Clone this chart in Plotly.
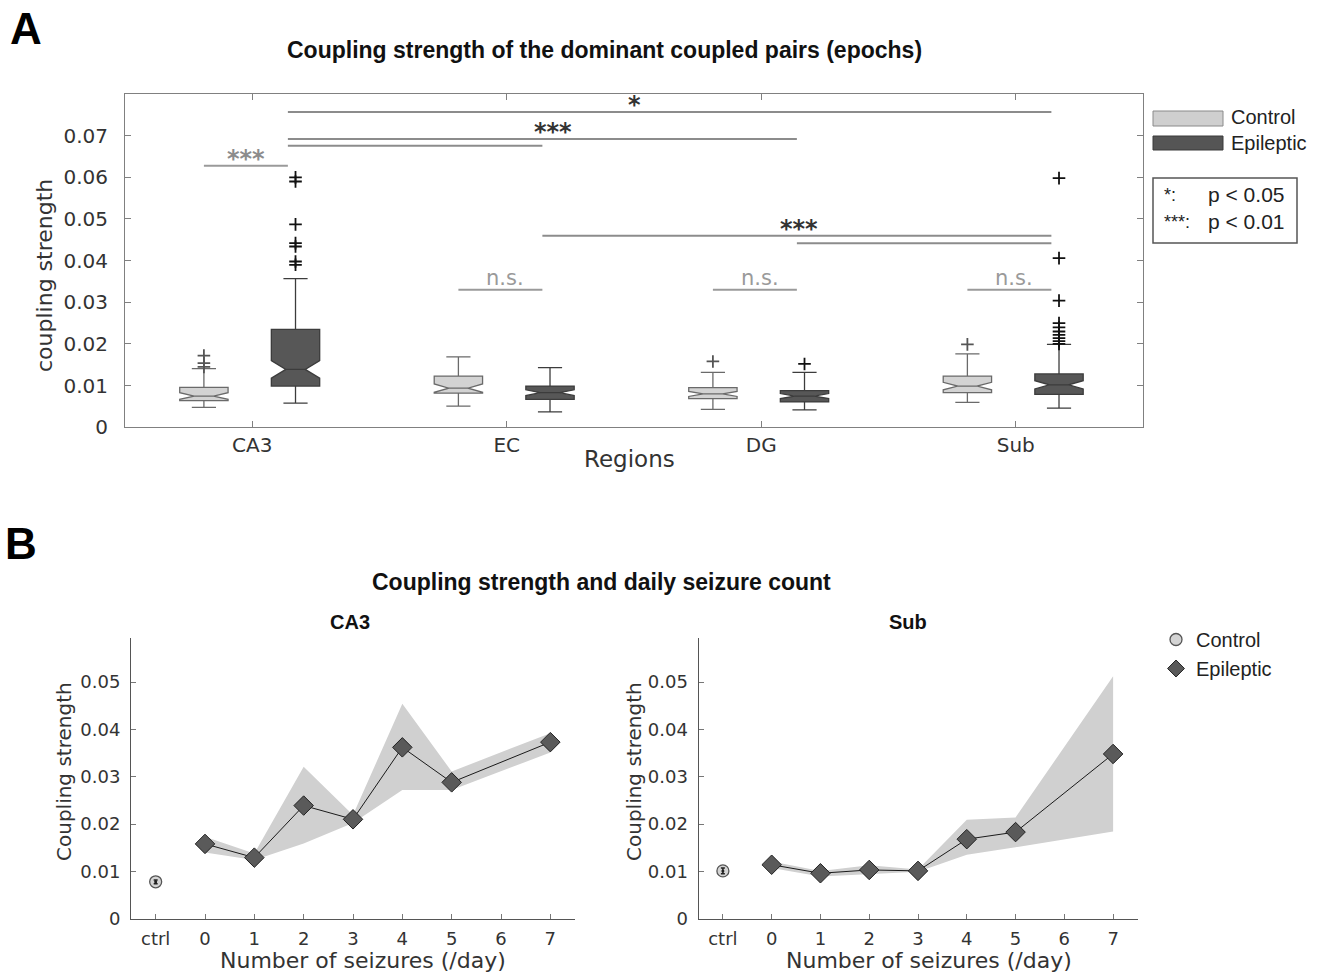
import plotly.graph_objects as go

W, H = 1329, 975      # reference size in pixels (positions below are given in this frame)
FIG_H = 987           # page is captured from a slightly taller viewport and squeezed to 975

# ---------------- Panel A data (box plot statistics) ----------------
regions = ["CA3", "EC", "DG", "Sub"]

ctrl_lowerfence = [0.0048, 0.0051, 0.0043, 0.0060]
ctrl_q1 = [0.0064, 0.0082, 0.0069, 0.0083]
ctrl_median = [0.0075, 0.0094, 0.0080, 0.0099]
ctrl_q3 = [0.0096, 0.0123, 0.0095, 0.0123]
ctrl_upperfence = [0.0141, 0.0169, 0.0132, 0.0176]
ctrl_notch = [0.0008, 0.0010, 0.0006, 0.0009]
ctrl_outliers = [[0.0145, 0.0154, 0.0172], [], [0.0158], [0.0199]]

epi_lowerfence = [0.0058, 0.0037, 0.0042, 0.0046]
epi_q1 = [0.0099, 0.0067, 0.0061, 0.0079]
epi_median = [0.0139, 0.0083, 0.0075, 0.0102]
epi_q3 = [0.0235, 0.0099, 0.0088, 0.0128]
epi_upperfence = [0.0357, 0.0143, 0.0132, 0.0199]
epi_notch = [0.0021, 0.0007, 0.0006, 0.0010]
epi_outliers = [
    [0.0390, 0.0398, 0.0434, 0.0442, 0.0487, 0.0590, 0.0600],
    [],
    [0.0152],
    [0.0200, 0.0207, 0.0214, 0.0222, 0.0230, 0.0240, 0.0250, 0.0304, 0.0406, 0.0598],
]

# significance bars
sig_within = [("CA3", "***", 0.0628), ("EC", "n.s.", 0.0330), ("DG", "n.s.", 0.0330), ("Sub", "n.s.", 0.0330)]
sig_between = [
    ("CA3", "Sub", 0.0757),
    ("CA3", "DG", 0.0692),
    ("CA3", "EC", 0.0676),
    ("EC", "Sub", 0.0460),
    ("DG", "Sub", 0.0442),
]
sig_between_labels = [("*", 2.50, 0.0757), ("***", 2.18, 0.0692), ("***", 3.15, 0.0460)]

# ---------------- Panel B data ----------------
seizure_ticklabels = ["ctrl", "0", "1", "2", "3", "4", "5", "6", "7"]
seizure_tickvals = [-1, 0, 1, 2, 3, 4, 5, 6, 7]
seizure_counts = [0, 1, 2, 3, 4, 5, 7]

ca3_mean = [0.0158, 0.0129, 0.0239, 0.0210, 0.0362, 0.0288, 0.0373]
ca3_upper = [0.0173, 0.0138, 0.0321, 0.0219, 0.0454, 0.0311, 0.0392]
ca3_lower = [0.0140, 0.0124, 0.0159, 0.0202, 0.0272, 0.0272, 0.0351]
ca3_ctrl, ca3_ctrl_err = 0.0078, 0.0004

sub_mean = [0.0114, 0.0096, 0.0103, 0.0101, 0.0168, 0.0183, 0.0348]
sub_upper = [0.0121, 0.0101, 0.0113, 0.0104, 0.0209, 0.0214, 0.0512]
sub_lower = [0.0107, 0.0089, 0.0094, 0.0099, 0.0135, 0.0151, 0.0184]
sub_ctrl, sub_ctrl_err = 0.0101, 0.0006


def px(x):
    return x / W


def py(y):
    return 1 - y / H


TICKFONT = "DejaVu Sans"
SANS = "Liberation Sans"
fig = go.Figure()

# ---------------- Panel A ----------------
gpos = {r: i + 1 for i, r in enumerate(regions)}
ctrl_x = [gpos[r] - 0.19 for r in regions]
epi_x = [gpos[r] + 0.17 for r in regions]

fig.add_trace(go.Box(
    x=ctrl_x, q1=ctrl_q1, median=ctrl_median, q3=ctrl_q3,
    lowerfence=ctrl_lowerfence, upperfence=ctrl_upperfence,
    notched=True, notchspan=ctrl_notch, notchwidth=0.3,
    width=0.19, whiskerwidth=0.5, fillcolor="#d3d3d3",
    line=dict(color="#6a6a6a", width=1.3), boxpoints=False,
    hoverinfo="skip", showlegend=False, name="Control", xaxis="x", yaxis="y"))
fig.add_trace(go.Box(
    x=epi_x, q1=epi_q1, median=epi_median, q3=epi_q3,
    lowerfence=epi_lowerfence, upperfence=epi_upperfence,
    notched=True, notchspan=epi_notch, notchwidth=0.3,
    width=0.19, whiskerwidth=0.5, fillcolor="#575757",
    line=dict(color="#3c3c3c", width=1.3), boxpoints=False,
    hoverinfo="skip", showlegend=False, name="Epileptic", xaxis="x", yaxis="y"))

for xs, outs, col in [(ctrl_x, ctrl_outliers, "#555555"), (epi_x, epi_outliers, "#111111")]:
    ox, oy = [], []
    for xp, o in zip(xs, outs):
        ox += [xp] * len(o)
        oy += o
    fig.add_trace(go.Scatter(
        x=ox, y=oy, mode="markers", showlegend=False, hoverinfo="skip",
        marker=dict(symbol="cross-thin", size=9, line=dict(color=col, width=1.8)),
        xaxis="x", yaxis="y"))

shapes = []
annotations = []
ridx = {r: i for i, r in enumerate(regions)}
for r, lab, yv in sig_within:
    i = ridx[r]
    shapes.append(dict(type="line", xref="x", yref="y", x0=ctrl_x[i], x1=epi_x[i] - 0.03,
                       y0=yv, y1=yv, line=dict(color="#9a9a9a", width=2)))
    if lab == "n.s.":
        annotations.append(dict(x=(ctrl_x[i] + epi_x[i] - 0.03) / 2 + 0.02, y=yv, xref="x", yref="y",
                                text=lab, showarrow=False, yanchor="bottom", yshift=-2,
                                font=dict(family=TICKFONT, size=21, color="#9a9a9a")))
    else:
        annotations.append(dict(x=(ctrl_x[i] + epi_x[i] - 0.03) / 2, y=yv, xref="x", yref="y",
                                text="<b>%s</b>" % lab, showarrow=False, yanchor="bottom", yshift=-9,
                                font=dict(family="DejaVu Sans", size=24, color="#8c8c8c")))
for a, b, yv in sig_between:
    shapes.append(dict(type="line", xref="x", yref="y", x0=epi_x[ridx[a]] - 0.03, x1=epi_x[ridx[b]] - 0.03,
                       y0=yv, y1=yv, line=dict(color="#8c8c8c", width=2)))
for lab, xv, yv in sig_between_labels:
    annotations.append(dict(x=xv, y=yv, xref="x", yref="y", text="<b>%s</b>" % lab, showarrow=False,
                            yanchor="bottom", yshift=-9,
                            font=dict(family="DejaVu Sans", size=24, color="#333333")))

# legend A (manual)
shapes.append(dict(type="rect", xref="paper", yref="paper", x0=px(1153), x1=px(1223), y0=py(126), y1=py(111),
                   fillcolor="#cfcfcf", line=dict(color="#8a8a8a", width=1)))
shapes.append(dict(type="rect", xref="paper", yref="paper", x0=px(1153), x1=px(1223), y0=py(150), y1=py(136),
                   fillcolor="#555555", line=dict(color="#3a3a3a", width=1)))
shapes.append(dict(type="rect", xref="paper", yref="paper", x0=px(1153), x1=px(1297), y0=py(243), y1=py(178),
                   fillcolor="rgba(0,0,0,0)", line=dict(color="#555555", width=1.5)))
for txt, x, y, sz, anc in [("Control", 1229, 117, 20, "left"), ("Epileptic", 1229, 143, 20, "left"),
                           ("*:", 1162, 195, 18, "left"), ("p &lt; 0.05", 1206, 194, 21, "left"),
                           ("***:", 1162, 222, 18, "left"), ("p &lt; 0.01", 1206, 221, 21, "left")]:
    annotations.append(dict(x=px(x), y=py(y), xref="paper", yref="paper", text=txt, showarrow=False,
                            xanchor=anc, yanchor="middle", font=dict(family=SANS, size=sz, color="#222222")))

# ---------------- Panel B ----------------
for (mean, up, lo, cval, cerr, xa, ya) in [
        (ca3_mean, ca3_upper, ca3_lower, ca3_ctrl, ca3_ctrl_err, "x2", "y2"),
        (sub_mean, sub_upper, sub_lower, sub_ctrl, sub_ctrl_err, "x3", "y3")]:
    fig.add_trace(go.Scatter(
        x=seizure_counts + seizure_counts[::-1], y=up + lo[::-1], fill="toself",
        fillcolor="#d0d0d0", line=dict(width=0), mode="lines", showlegend=False,
        hoverinfo="skip", xaxis=xa, yaxis=ya))
    fig.add_trace(go.Scatter(
        x=seizure_counts, y=mean, mode="lines+markers", showlegend=False,
        line=dict(color="#1a1a1a", width=1),
        marker=dict(symbol="diamond", size=15, color="#5a5a5a", line=dict(color="#222222", width=1)),
        xaxis=xa, yaxis=ya))
    fig.add_trace(go.Scatter(
        x=[-1], y=[cval], mode="markers", showlegend=False,
        marker=dict(symbol="circle", size=12, color="#d4d4d4", line=dict(color="#555555", width=1.3)),
        xaxis=xa, yaxis=ya))
    fig.add_trace(go.Scatter(
        x=[-1], y=[cval], mode="markers", showlegend=False,
        marker=dict(size=3, color="#222222"),
        error_y=dict(type="data", array=[cerr], color="#222222", thickness=1.5, width=2),
        xaxis=xa, yaxis=ya))

fig.add_trace(go.Scatter(x=[None], y=[None], mode="markers", name="Control",
                         marker=dict(symbol="circle", size=12, color="#d4d4d4", line=dict(color="#555555", width=1.3)),
                         xaxis="x2", yaxis="y2"))
fig.add_trace(go.Scatter(x=[None], y=[None], mode="markers", name="Epileptic",
                         marker=dict(symbol="diamond", size=13, color="#5a5a5a", line=dict(color="#222222", width=1)),
                         xaxis="x2", yaxis="y2"))

# titles and labels
for txt, x, y, sz, fam, col, ang in [
        ("<b>A</b>", 26, 28, 44, SANS, "#000000", 0),
        ("<b>B</b>", 21, 543, 44, SANS, "#000000", 0),
        ("<b>Coupling strength of the dominant coupled pairs (epochs)</b>", 604, 50, 23, SANS, "#111111", 0),
        ("<b>Coupling strength and daily seizure count</b>", 601, 582, 23, SANS, "#111111", 0),
        ("<b>CA3</b>", 350, 622, 20, SANS, "#111111", 0),
        ("<b>Sub</b>", 908, 622, 20, SANS, "#111111", 0),
        ("coupling strength", 45, 276, 22, TICKFONT, "#333333", -90),
        ("Regions", 629, 459, 23, TICKFONT, "#333333", 0),
        ("Coupling strength", 64, 772, 20, TICKFONT, "#333333", -90),
        ("Coupling strength", 634, 772, 20, TICKFONT, "#333333", -90),
        ("Number of seizures (/day)", 363, 960, 22, TICKFONT, "#333333", 0),
        ("Number of seizures (/day)", 929, 960, 22, TICKFONT, "#333333", 0)]:
    annotations.append(dict(x=px(x), y=py(y), xref="paper", yref="paper", text=txt, showarrow=False,
                            xanchor="center", yanchor="middle", textangle=ang,
                            font=dict(family=fam, size=sz, color=col)))

axis_common = dict(showgrid=False, zeroline=False, showline=True, ticks="inside")
tf_a = dict(family=TICKFONT, size=20, color="#333333")
tf_b = dict(family=TICKFONT, size=18, color="#333333")

fig.update_layout(
    width=W, height=FIG_H, margin=dict(l=0, r=0, t=0, b=0),
    paper_bgcolor="white", plot_bgcolor="white", boxmode="overlay",
    shapes=shapes, annotations=annotations,
    xaxis=dict(domain=[px(125), px(1143)], range=[0.5, 4.5], anchor="y",
               tickvals=[gpos[r] for r in regions], ticktext=regions, mirror="ticks",
               linecolor="#808080", tickcolor="#808080", ticklen=6, ticklabelstandoff=0,
               tickfont=tf_a, **axis_common),
    yaxis=dict(domain=[py(427.3), py(94)], range=[0, 0.08], anchor="x",
               tickvals=[0, 0.01, 0.02, 0.03, 0.04, 0.05, 0.06, 0.07],
               ticktext=["0", "0.01", "0.02", "0.03", "0.04", "0.05", "0.06", "0.07"],
               mirror="ticks", linecolor="#808080", tickcolor="#808080", ticklen=6,
               ticklabelstandoff=12, tickfont=tf_a, **axis_common),
    xaxis2=dict(domain=[px(131), px(575)], range=[-1.5, 7.5], anchor="y2",
                tickvals=seizure_tickvals, ticktext=seizure_ticklabels,
                linecolor="#555555", tickcolor="#777777", ticklen=5, ticklabelstandoff=4,
                tickfont=tf_b, **axis_common),
    yaxis2=dict(domain=[py(918.7), py(638)], range=[0, 0.0593], anchor="x2",
                tickvals=[0, 0.01, 0.02, 0.03, 0.04, 0.05],
                ticktext=["0", "0.01", "0.02", "0.03", "0.04", "0.05"],
                linecolor="#555555", tickcolor="#777777", ticklen=5, ticklabelstandoff=6,
                tickfont=tf_b, **axis_common),
    xaxis3=dict(domain=[px(698.5), px(1137.5)], range=[-1.5, 7.5], anchor="y3",
                tickvals=seizure_tickvals, ticktext=seizure_ticklabels,
                linecolor="#555555", tickcolor="#777777", ticklen=5, ticklabelstandoff=4,
                tickfont=tf_b, **axis_common),
    yaxis3=dict(domain=[py(918.7), py(638)], range=[0, 0.0593], anchor="x3",
                tickvals=[0, 0.01, 0.02, 0.03, 0.04, 0.05],
                ticktext=["0", "0.01", "0.02", "0.03", "0.04", "0.05"],
                linecolor="#555555", tickcolor="#777777", ticklen=5, ticklabelstandoff=6,
                tickfont=tf_b, **axis_common),
    legend=dict(x=px(1156), y=py(620), xanchor="left", yanchor="top", bgcolor="rgba(0,0,0,0)",
                font=dict(family=SANS, size=20, color="#222222"), tracegroupgap=0, itemwidth=30),
)

fig.write_html("out.html", config={"displayModeBar": False},
               post_script="document.body.style.margin='0';document.body.style.overflow='hidden';")
